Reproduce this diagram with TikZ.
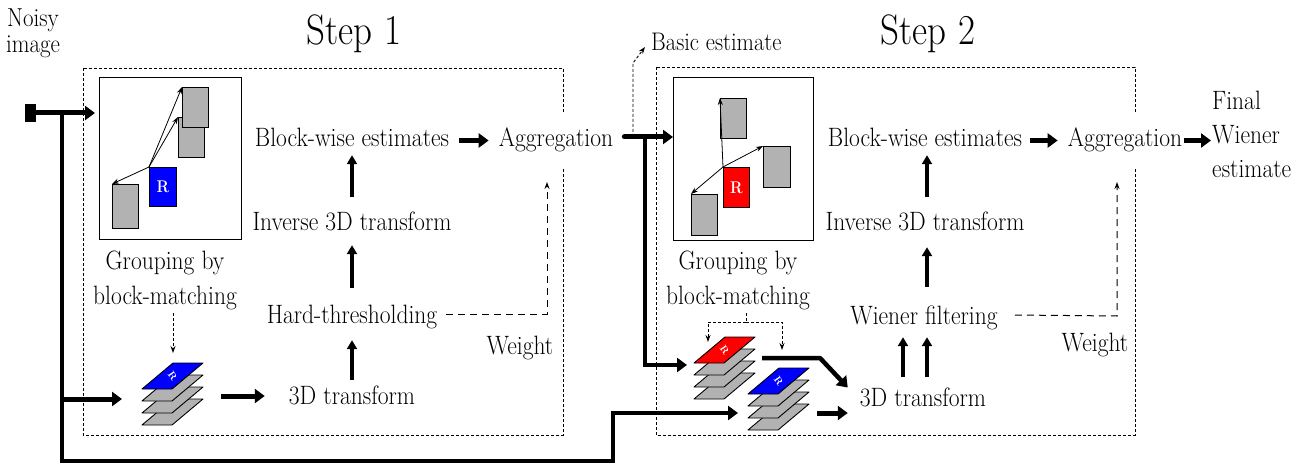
\documentclass[tikz,border=0pt]{standalone}
\usepackage{graphicx}
\usetikzlibrary{arrows.meta,calc}
\newcommand{\vs}[1]{\scalebox{1}[1.13]{#1}}
\newcommand{\vt}[1]{\scalebox{1}[1.15]{#1}}
\tikzset{
  pics/stack/.style={code={
    \foreach \k in {36,24,12}{\draw[line width=0.9pt, fill=gray!60, line join=round] (0,\k) -- ++(30,0) -- ++(31,-26) -- ++(-30,0) -- cycle;}
    \draw[line width=0.9pt, fill=#1, line join=round] (0,0) -- ++(30,0) -- ++(31,-26) -- ++(-30,0) -- cycle;
    \node[text=white, font=\bfseries\fontsize{10}{10}\selectfont, rotate=-55, inner sep=0pt] at (30.5,-13) {R};
  }}
}
\begin{document}
\begin{tikzpicture}[x=1pt,y=-1pt,
  lbl/.style={inner sep=0pt, font=\fontsize{23.5}{27}\selectfont, text height=18pt, text depth=5pt},
  ml/.style={inner sep=0pt, align=center},
  aggbox/.style={lbl, fill=white, inner xsep=2pt, inner ysep=17pt},
  frame/.style={draw, line width=0.9pt, dash pattern=on 3pt off 2pt},
  imgbox/.style={draw, line width=1pt, inner sep=0pt, anchor=north west},
  blk/.style={draw, line width=1pt, fill=gray!60, inner sep=0pt, minimum width=26pt, minimum height=40pt, anchor=north west},
  rblk/.style={blk, text=white, font=\bfseries\fontsize{15}{15}\selectfont},
  thinarrow/.style={line width=0.8pt, -{Stealth[length=7pt,width=5pt]}},
  bigl/.style={line width=4.5pt},
  bigarrow/.style={line width=5pt, -{Triangle[length=10pt,width=14pt]}},
  uparrow/.style={line width=3.5pt, -{Triangle[length=9pt,width=10pt]}},
  weightline/.style={line width=1pt, dash pattern=on 7pt off 5pt, -{Stealth[length=7pt,width=5pt]}},
  smalldash/.style={line width=0.9pt, dash pattern=on 3pt off 2pt},
  smalldasharrow/.style={smalldash, -{Stealth[length=7pt,width=5pt]}}
]
\useasboundingbox (0,0) rectangle (1309,465);

% dashed frames
\draw[frame] (83,68) rectangle (563,435);
\draw[frame] (656,67) rectangle (1135,435);

% titles
\node[inner sep=0pt, font=\fontsize{37}{42}\selectfont] (step1) at (354,34) {\vt{Step 1}};
\node[inner sep=0pt, font=\fontsize{37}{42}\selectfont] (step2) at (928,34) {\vt{Step 2}};

% input label and marker
\node[ml, font=\fontsize{23}{23}\selectfont] (noisy) at (33,34) {\vs{\begin{tabular}{@{}c@{}}Noisy\\image\end{tabular}}};
\node[fill=black, inner sep=0pt, minimum width=11pt, minimum height=18pt] (sq) at (30.5,113) {};

% ---------- Step 1 ----------
\node[imgbox, minimum width=142pt, minimum height=162pt] (img1) at (99,77) {};
\node[blk] (b1b) at (178,117) {};
\node[blk] (b1a) at (182,87) {};
\node[rblk, fill=blue, minimum width=27pt, minimum height=39pt] (r1) at (149,167) {\vs{R}};
\node[blk, minimum height=44pt] (b1c) at (112,184) {};
\draw[thinarrow] (r1.north west) -- (b1a.north west);
\draw[thinarrow] (r1.north west) -- (b1b.north west);
\draw[thinarrow] (r1.north west) -- (b1c.north west);

\node[ml, font=\fontsize{23.5}{31}\selectfont] (group1) at (165,280) {\vs{\begin{tabular}{@{}c@{}}Grouping by\\block-matching\end{tabular}}};

\node[lbl] (bw1) at (352,140.5) {\vs{Block-wise estimates}};
\node[aggbox] (agg1) at (556,140.5) {\vs{Aggregation}};
\node[lbl] (inv1) at (352,224.5) {\vs{Inverse 3D transform}};
\node[lbl] (ht) at (352,316.5) {\vs{Hard-thresholding}};
\node[lbl] (t3d1) at (352,397.5) {\vs{3D transform}};
\node[lbl] (weight1) at (520,347.5) {\vs{Weight}};

\draw[bigarrow, shorten <=10pt, shorten >=8pt] (bw1) -- (agg1);
\draw[uparrow, shorten <=16pt, shorten >=3pt] (inv1) -- (bw1);
\draw[uparrow, shorten <=17pt, shorten >=9pt] (ht) -- (inv1);
\draw[uparrow, shorten <=6pt, shorten >=12pt] (t3d1) -- (ht);

\coordinate (w1c) at (547,314);
\coordinate (w1t) at (547,182);
\draw[weightline] ([xshift=9pt,yshift=2.5pt]ht.east) -- (w1c) -- (w1t);

\pic at (142,389) {stack=blue};
\coordinate (st1top) at (173,353);
\coordinate (st1in) at (122,399);
\coordinate (st1out) at (221,396);
\draw[smalldasharrow] ([xshift=8pt,yshift=2pt]group1.south) -- (st1top);
\draw[bigarrow, shorten >=24pt] (st1out) -- (t3d1.west |- st1out);

% input paths
\coordinate (j1) at (62,113);
\coordinate (j3) at (613,461);
\coordinate (j4) at (613,413);
\coordinate (j5) at (62,399);
\coordinate (st3in) at (738,413);
\draw[bigarrow, shorten >=4pt] (sq.east) -- (img1.west |- sq.east);
\draw[bigl, line join=miter, -{Triangle[length=10pt,width=14pt]}] (j1) |- (j3) -- (j4) -- (st3in);
\draw[bigarrow] (j5) -- (st1in);

% ---------- between steps ----------
\node[imgbox, minimum width=140pt, minimum height=163pt] (img2) at (673,77) {};
\node[inner sep=0pt, font=\fontsize{22.5}{27}\selectfont, anchor=west] (basic) at (651,42) {\vs{Basic estimate}};
\coordinate (j6) at (645,137);
\coordinate (j8) at (633,137);
\coordinate (j9) at (633,63);
\coordinate (basictip) at (645,47);
\coordinate (st2in) at (687,365);
\draw[bigarrow, line cap=round, shorten <=9pt] (agg1.east |- j6) -- (img2.west |- j6);
\draw[smalldasharrow] (j8) -- (j9) -- (basictip);
\draw[bigl, -{Triangle[length=10pt,width=14pt]}] (j6) |- (st2in);

% ---------- Step 2 ----------
\node[blk] (b2a) at (720,98) {};
\node[blk, minimum width=27pt, minimum height=41pt] (b2b) at (763,146) {};
\node[rblk, fill=red] (r2) at (723,167) {\vs{R}};
\node[blk, minimum height=41pt] (b2c) at (691,194) {};
\draw[thinarrow] (r2.north west) -- (b2a.north west);
\draw[thinarrow] (r2.north west) -- (b2b.north west);
\draw[thinarrow] (r2.north west) -- (b2c.north west);

\node[ml, font=\fontsize{23.5}{31}\selectfont] (group2) at (738,280) {\vs{\begin{tabular}{@{}c@{}}Grouping by\\block-matching\end{tabular}}};

\node[lbl] (bw2) at (925,140.5) {\vs{Block-wise estimates}};
\node[aggbox] (agg2) at (1125,140.5) {\vs{Aggregation}};
\node[lbl] (inv2) at (925,224.5) {\vs{Inverse 3D transform}};
\node[lbl] (wf) at (924,317.5) {\vs{Wiener filtering}};
\node[lbl] (t3d2) at (923,399.5) {\vs{3D transform}};
\node[lbl] (weight2) at (1095,344.5) {\vs{Weight}};
\node[ml, font=\fontsize{23.5}{30}\selectfont, anchor=west] (final) at (1212,137) {\vs{\begin{tabular}{@{}l@{}}Final\\Wiener\\estimate\end{tabular}}};

\draw[bigarrow, shorten <=8pt, shorten >=8pt] (bw2) -- (agg2);
\draw[bigarrow, shorten >=1pt] (agg2) -- (final.west |- agg2);
\draw[uparrow, shorten <=16pt, shorten >=3pt] ([xshift=2pt]inv2.north) -- ([xshift=2pt]bw2.south);
\draw[uparrow, shorten <=19pt, shorten >=11pt] ([xshift=3pt]wf.north) -- ([xshift=3pt]wf.north |- inv2.south);
\draw[uparrow, shorten <=11pt, shorten >=8pt] ([xshift=-20pt]t3d2.north) -- ([xshift=-20pt]t3d2.north |- wf.south);
\draw[uparrow, shorten <=11pt, shorten >=8pt] ([xshift=4pt]t3d2.north) -- ([xshift=4pt]t3d2.north |- wf.south);

\coordinate (w2c) at (1117,316);
\coordinate (w2t) at (1117,182);
\draw[weightline] ([xshift=17pt,yshift=2.5pt]wf.east) -- (w2c) -- (w2t);

\pic at (694,363) {stack=red};
\pic at (748,394) {stack=blue};

\coordinate (g2s) at (746,313);
\coordinate (g2m) at (746,322);
\coordinate (g2l) at (708,322);
\coordinate (g2r) at (782,322);
\coordinate (st2top) at (708,342);
\coordinate (st3top) at (782,350);
\draw[smalldash] (g2s) -- (g2m);
\draw[smalldasharrow] (g2m) -- (g2l) -- (st2top);
\draw[smalldasharrow] (g2m) -- (g2r) -- (st3top);

\coordinate (r2out) at (762,358);
\coordinate (r2bend) at (820,358);
\coordinate (st3out) at (817,413);
\draw[bigl, line join=round, -{Triangle[length=10pt,width=14pt]}] (r2out) -- (r2bend) -- ([shift={(-12,-12)}]t3d2.west);
\draw[bigarrow, shorten >=12pt] (st3out) -- (st3out -| t3d2.west);
\end{tikzpicture}
\end{document}
